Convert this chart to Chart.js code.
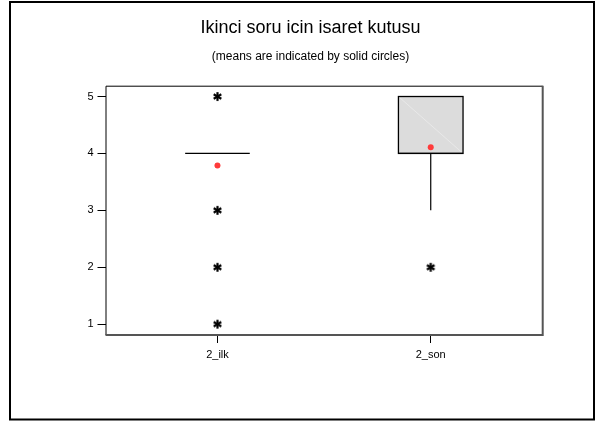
<!DOCTYPE html>
<html>
<head>
<meta charset="utf-8">
<script src="https://cdn.jsdelivr.net/npm/chart.js@4/dist/chart.umd.min.js"></script>
<style>
  html, body { margin: 0; padding: 0; background: #fff; }
  canvas { display: block; }
</style>
</head>
<body>
<canvas id="c" width="595" height="421"></canvas>
<script>
// Box-plot summary for the two questionnaire columns
const categories = ['2_ilk', '2_son'];
const q1 = [4, 4];
const medians = [4, 4];
const q3 = [4, 5];
const whiskerLow = [4, 3];
const whiskerHigh = [4, 5];
const means = [3.79, 4.11];
const outliersIlk = [5, 3, 2, 1];
const outliersSon = [2];
const yTicks = [1, 2, 3, 4, 5];

const FONT = "'Liberation Sans', Arial, sans-serif";

// asterisk marker used for outliers
function makeAsterisk() {
  const s = 11;
  const cv = document.createElement('canvas');
  cv.width = s; cv.height = s;
  const g = cv.getContext('2d');
  g.strokeStyle = '#000';
  g.lineWidth = 2.2;
  g.lineCap = 'butt';
  const c = s / 2, r = 4.4;
  for (let k = 0; k < 3; k++) {
    const a = Math.PI / 2 + k * Math.PI / 3;
    g.beginPath();
    g.moveTo(c - r * Math.cos(a), c - r * Math.sin(a));
    g.lineTo(c + r * Math.cos(a), c + r * Math.sin(a));
    g.stroke();
  }
  return cv;
}
const asterisk = makeAsterisk();

const outlierPoints = [
  ...outliersIlk.map(v => ({ x: 1, y: v })),
  ...outliersSon.map(v => ({ x: 2, y: v }))
];
const meanPoints = means.map((v, i) => ({ x: i + 1, y: v }));

// white page, outer frame
const pagePlugin = {
  id: 'page',
  beforeDraw(chart) {
    const ctx = chart.ctx;
    ctx.save();
    ctx.fillStyle = '#fff';
    ctx.fillRect(0, 0, chart.width, chart.height);
    ctx.restore();
  },
  afterDraw(chart) {
    const ctx = chart.ctx;
    ctx.save();
    ctx.strokeStyle = '#000';
    ctx.lineWidth = 2;
    ctx.strokeRect(10, 2, 584, 417.5);
    ctx.restore();
  }
};

// plot frame plus boxes, medians and whiskers
const boxPlugin = {
  id: 'boxes',
  beforeDatasetsDraw(chart) {
    const { ctx, chartArea: a, scales: { x, y } } = chart;
    ctx.save();
    // frame
    ctx.strokeStyle = '#000';
    ctx.lineWidth = 1;
    ctx.beginPath();
    ctx.moveTo(a.left + 0.5, a.bottom);
    ctx.lineTo(a.left + 0.5, a.top + 0.5);
    ctx.lineTo(a.right, a.top + 0.5);
    ctx.stroke();
    ctx.strokeStyle = '#555';
    ctx.lineWidth = 2;
    ctx.beginPath();
    ctx.moveTo(a.right, a.top);
    ctx.lineTo(a.right, a.bottom);
    ctx.lineTo(a.left, a.bottom);
    ctx.stroke();

    const half = 32.3;
    categories.forEach((_, i) => {
      const cx = x.getPixelForValue(i + 1);
      const yq1 = y.getPixelForValue(q1[i]);
      const yq3 = y.getPixelForValue(q3[i]);
      const ym = y.getPixelForValue(medians[i]);
      // whiskers
      ctx.strokeStyle = '#000';
      ctx.lineWidth = 1.2;
      if (whiskerLow[i] < q1[i]) {
        ctx.beginPath();
        ctx.moveTo(cx, yq1);
        ctx.lineTo(cx, y.getPixelForValue(whiskerLow[i]));
        ctx.stroke();
      }
      if (whiskerHigh[i] > q3[i]) {
        ctx.beginPath();
        ctx.moveTo(cx, yq3);
        ctx.lineTo(cx, y.getPixelForValue(whiskerHigh[i]));
        ctx.stroke();
      }
      if (q3[i] > q1[i]) {
        ctx.fillStyle = '#dcdcdc';
        ctx.fillRect(cx - half, yq3, 2 * half, yq1 - yq3);
        ctx.strokeStyle = 'rgba(255,255,255,0.35)';
        ctx.lineWidth = 1;
        ctx.beginPath();
        ctx.moveTo(cx - half, yq3);
        ctx.lineTo(cx + half, yq1);
        ctx.stroke();
        ctx.strokeStyle = '#000';
        ctx.lineWidth = 1.3;
        ctx.strokeRect(cx - half, yq3, 2 * half, yq1 - yq3);
      }
      ctx.strokeStyle = '#000';
      ctx.lineWidth = 1.3;
      ctx.beginPath();
      ctx.moveTo(cx - half, ym);
      ctx.lineTo(cx + half, ym);
      ctx.stroke();
    });
    ctx.restore();
  }
};

new Chart(document.getElementById('c'), {
  type: 'scatter',
  data: {
    datasets: [
      {
        label: 'outliers',
        data: outlierPoints,
        pointStyle: asterisk,
        pointRadius: 5
      },
      {
        label: 'means',
        data: meanPoints,
        pointStyle: 'circle',
        pointRadius: 3,
        pointBackgroundColor: '#ff3b3b',
        pointBorderWidth: 0,
        borderColor: 'rgba(0,0,0,0)'
      }
    ]
  },
  options: {
    responsive: false,
    animation: false,
    devicePixelRatio: 1,
    layout: { padding: { left: 78.3, right: 52.3, top: 0, bottom: 0 } },
    plugins: {
      legend: { display: false },
      tooltip: { enabled: false },
      title: {
        display: true,
        text: 'Ikinci soru icin isaret kutusu',
        color: '#000',
        font: { family: FONT, size: 18, weight: 'normal' },
        padding: { top: 17.2, bottom: 11 }
      },
      subtitle: {
        display: true,
        text: '(means are indicated by solid circles)',
        color: '#000',
        font: { family: FONT, size: 12, weight: 'normal' },
        padding: { top: 0, bottom: 21.5 }
      }
    },
    scales: {
      x: {
        type: 'linear',
        min: 0.475,
        max: 2.525,
        afterBuildTicks(scale) {
          scale.ticks = categories.map((_, i) => ({ value: i + 1 }));
        },
        afterFit(scale) { scale.height = 86; },
        border: { display: false },
        grid: { drawOnChartArea: false, drawTicks: true, tickLength: 8, color: '#000', tickWidth: 1 },
        ticks: {
          color: '#000',
          font: { family: FONT, size: 11 },
          padding: 5,
          maxRotation: 0,
          callback: (v) => categories[Math.round(v) - 1]
        }
      },
      y: {
        min: 0.81,
        max: 5.19,
        afterBuildTicks(scale) {
          scale.ticks = yTicks.map(v => ({ value: v }));
        },
        afterFit(scale) { scale.width = 27.2; },
        border: { display: false },
        grid: { drawOnChartArea: false, drawTicks: true, tickLength: 8, color: '#000', tickWidth: 1 },
        ticks: {
          color: '#000',
          font: { family: FONT, size: 11 },
          padding: 4,
          callback: (v) => String(v)
        }
      }
    }
  },
  plugins: [pagePlugin, boxPlugin]
});
</script>
</body>
</html>
